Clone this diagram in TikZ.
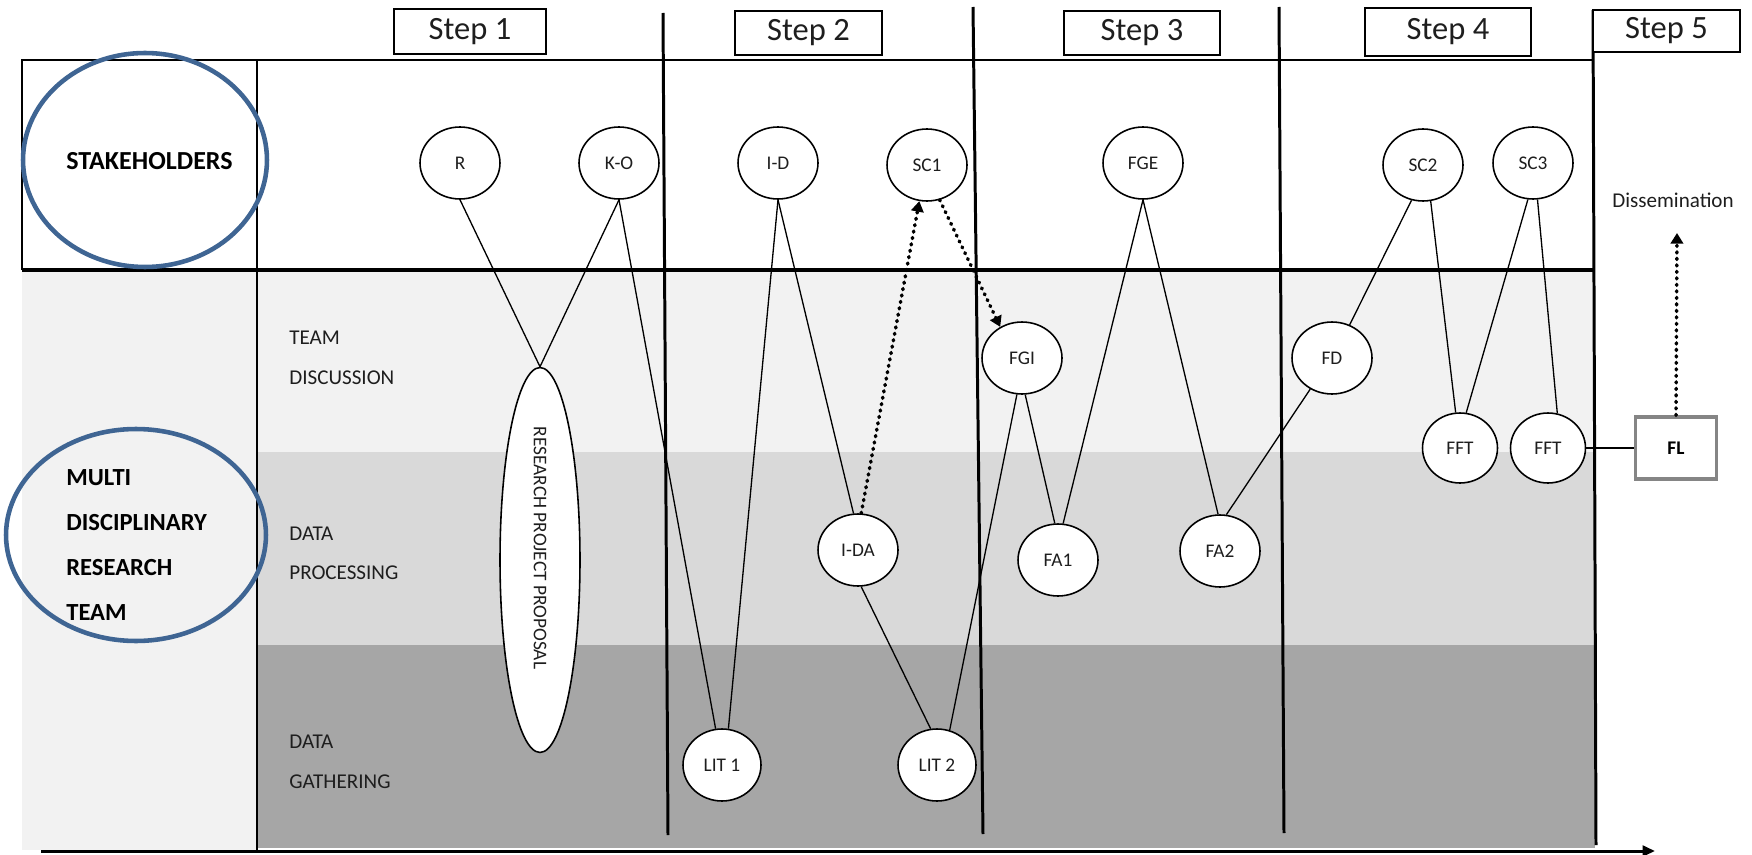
\documentclass[tikz,border=0pt]{standalone}
\usepackage{fontspec}
\setmainfont{Carlito}
\usetikzlibrary{shapes.geometric,arrows.meta}
\definecolor{bandA}{HTML}{F2F2F2}
\definecolor{bandB}{HTML}{D9D9D9}
\definecolor{bandC}{HTML}{A6A6A6}
\definecolor{blueline}{HTML}{3F6593}
\definecolor{txt}{HTML}{1E1E1E}
\definecolor{flgray}{HTML}{858585}
\begin{document}
\begin{tikzpicture}[x=0.02cm,y=-0.02cm,
  nd/.style={ellipse,draw,fill=white,line width=0.9pt,minimum width=1.6cm,minimum height=1.44cm,inner sep=0pt,font=\fontsize{11}{13}\selectfont,text=txt},
  ndsmall/.style={nd,minimum width=1.5cm,minimum height=1.4cm},
  conn/.style={line width=0.75pt},
  dotarrow/.style={line width=2pt,dash pattern=on 0.6pt off 3.1pt,line cap=round,-{Triangle[length=6pt,width=7pt]}},
  stepbox/.style={draw,line width=1.4pt,fill=white,inner sep=0pt,font=\fontsize{18.5}{22}\selectfont,text=txt},
  frame/.style={line width=1.7pt},
  bandlabel/.style={anchor=west,inner sep=0pt,font=\fontsize{12}{14}\selectfont,text=txt},
  biglabel/.style={anchor=west,inner sep=0pt,font=\fontsize{14}{16}\selectfont\bfseries},
  blueell/.style={ellipse,draw=blueline,line width=2.6pt,inner sep=0pt}
]
\useasboundingbox (0,0) rectangle (1752,855);
% bands
\fill[bandA] (22,271) rectangle (257,850);
\fill[bandA] (257,271) rectangle (1595,452);
\fill[bandB] (257,452) rectangle (1595,645);
\fill[bandC] (257,645) rectangle (1595,848);
% frame
\draw[frame] (22,270) -- (22,60) -- (1593,60);
\draw[line width=2.8pt] (22,270) -- (1595,270);
\draw[frame] (257,60) -- (257,850);
\draw[frame] (663,13) -- (668,835);
\draw[frame] (973,7) -- (983,834);
\draw[frame] (1279,7) -- (1284,833);
\draw[frame] (1593,10) -- (1596,845);
% axis
\coordinate (ax0) at (41,851);
\coordinate (ax1) at (1655,851);
\draw[frame,-{Triangle[length=7pt,width=6pt]}] (ax0) -- (ax1);
% step boxes
\node[stepbox,minimum width=3.04cm,minimum height=0.9cm] (s1) at (470,31.5) {Step 1};
\node[stepbox,minimum width=2.94cm,minimum height=0.88cm] (s2) at (808.5,33) {Step 2};
\node[stepbox,minimum width=3.12cm,minimum height=0.88cm] (s3) at (1142,33) {Step 3};
\node[stepbox,minimum width=3.32cm,minimum height=0.96cm] (s4) at (1448,32) {Step 4};
\node[stepbox,minimum width=2.94cm,minimum height=0.84cm] (s5) at (1666.5,31) {Step 5};
% labels
\node[biglabel,font=\fontsize{14.8}{17}\selectfont\bfseries] (stk) at (66,161) {STAKEHOLDERS};
\node[biglabel] (m1) at (66,478) {MULTI};
\node[biglabel] (m2) at (66,523) {DISCIPLINARY};
\node[biglabel] (m3) at (66,568) {RESEARCH};
\node[biglabel] (m4) at (66,613) {TEAM};
\node[bandlabel] (t1) at (289,338) {TEAM};
\node[bandlabel] (t2) at (289,378) {DISCUSSION};
\node[bandlabel] (p1) at (289,534) {DATA};
\node[bandlabel] (p2) at (289,573) {PROCESSING};
\node[bandlabel] (g1) at (289,742) {DATA};
\node[bandlabel] (g2) at (289,782) {GATHERING};
\node[inner sep=0pt,font=\fontsize{12}{14}\selectfont,text=txt] (dis) at (1673,200) {Dissemination};
\coordinate (distip) at (1677,233);
% nodes
\node[ellipse,draw,fill=white,line width=0.9pt,inner sep=0pt,minimum width=1.6cm,minimum height=7.7cm] (prop) at (540,560) {};
\node[rotate=-90,inner sep=0pt,font=\fontsize{11}{13}\selectfont,text=txt] (proptext) at (540,548) {RESEARCH PROJECT PROPOSAL};
\node[nd] (R) at (460,163) {R};
\node[nd] (KO) at (619,163) {K-O};
\node[nd] (ID) at (778,163) {I-D};
\node[nd] (SC1) at (927,165) {SC1};
\node[nd] (FGE) at (1143,163) {FGE};
\node[nd] (SC2) at (1423,165) {SC2};
\node[nd] (SC3) at (1533,163) {SC3};
\node[nd] (FGI) at (1022,358) {FGI};
\node[nd] (FD) at (1332,358) {FD};
\node[ndsmall] (FFT1) at (1460,448) {FFT};
\node[ndsmall] (FFT2) at (1548,448) {FFT};
\node[draw=flgray,line width=1.8pt,fill=white,minimum width=1.62cm,minimum height=1.24cm,inner sep=0pt,font=\fontsize{11}{13}\selectfont\bfseries] (FL) at (1676,448) {FL};
\node[nd] (FA1) at (1058,560) {FA1};
\node[nd] (FA2) at (1220,551) {FA2};
\node[nd] (IDA) at (858,550) {I-DA};
\node[nd,minimum width=1.56cm] (LIT1) at (722,765) {LIT 1};
\node[nd,minimum width=1.56cm] (LIT2) at (937,765) {LIT 2};
% connectors
\draw[conn] (R.south) -- (prop.north);
\draw[conn] (KO.south) -- (prop.north);
\draw[conn] (KO.south) -- (LIT1.100);
\draw[conn] (ID.south) -- (LIT1.80);
\draw[conn] (ID.south) -- (IDA.97);
\draw[dotarrow] (IDA.85) -- (SC1.258);
\draw[dotarrow] (SC1.290) -- (FGI.125);
\draw[conn] (IDA.275) -- (LIT2.100);
\draw[conn] (LIT2.70) -- (FGI.262);
\draw[conn] (FGI.275) -- (FA1.95);
\draw[conn] (FA1.82) -- (FGE.south);
\draw[conn] (FGE.south) -- (FA2.93);
\draw[conn] (FA2.80) -- (FD.235);
\draw[conn] (FD.62) -- (SC2.252);
\draw[conn] (SC2.282) -- (FFT1.97);
\draw[conn] (FFT1.80) -- (SC3.262);
\draw[conn] (SC3.277) -- (FFT2.75);
\draw[conn] (FFT2.east) -- (FL.west);
\draw[dotarrow] (FL.north) -- (distip);
% blue ellipses
\node[blueell,minimum width=4.88cm,minimum height=4.28cm] (e1) at (145,160) {};
\node[blueell,minimum width=5.2cm,minimum height=4.24cm] (e2) at (136,535) {};
\end{tikzpicture}
\end{document}
